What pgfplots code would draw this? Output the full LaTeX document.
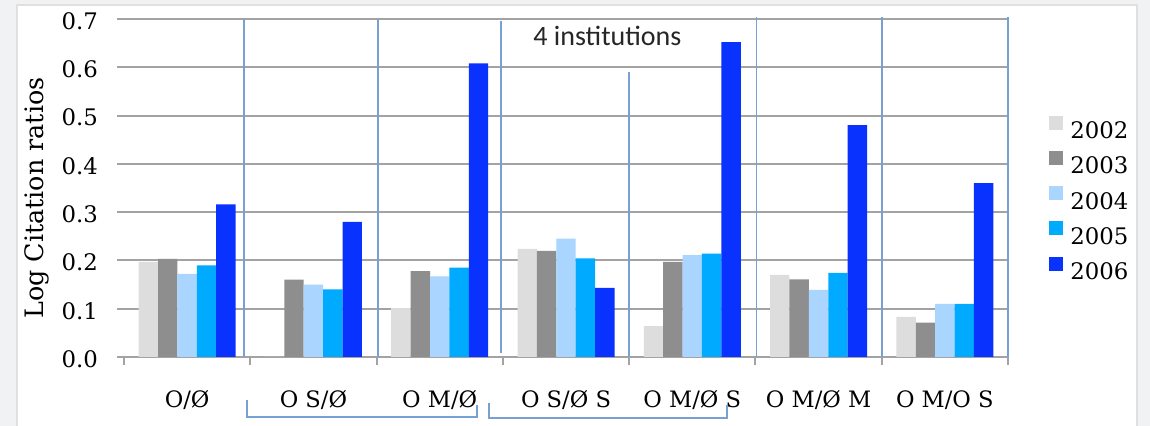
\documentclass[border=0pt]{standalone}
\usepackage{fontspec}
\setmainfont{DejaVu Serif}
\newfontfamily\calibri{Carlito}
\usepackage{pgfplots}
\pgfplotsset{compat=1.18}

\definecolor{cA}{HTML}{DDDDDD}
\definecolor{cB}{HTML}{8E8E8E}
\definecolor{cC}{HTML}{A9D5FF}
\definecolor{cD}{HTML}{00AAFF}
\definecolor{cE}{HTML}{0A32FF}
\definecolor{gridgray}{HTML}{A3A3A3}
\definecolor{annot}{HTML}{77A0D4}
\definecolor{bg}{HTML}{F1F2F4}

\begin{document}
\begin{tikzpicture}
% page background and white chart area (1px = 0.5pt)
\fill[bg] (0,0) rectangle (575pt,213pt);
\fill[white] (8.5pt,0) rectangle (568.5pt,210.5pt);
\draw[black!12, line width=0.6pt] (8.5pt,0) -- (8.5pt,210.5pt) -- (568.5pt,210.5pt) -- (568.5pt,0);

\begin{axis}[
  at={(62pt,34.5pt)}, anchor=south west,
  scale only axis, width=442pt, height=169pt,
  xmin=-0.5, xmax=6.5, ymin=0, ymax=0.7,
  ybar=0pt, bar width=9.7pt,
  axis lines*=left, axis line style={draw=none},
  tick align=outside,
  xtick={0,1,2,3,4,5,6},
  xticklabels={O/Ø, O S/Ø, O M/Ø, O S/Ø S, O M/Ø S, O M/Ø M, O M/O S},
  major x tick style={draw=none},
  minor xtick={-0.5,0.5,1.5,2.5,3.5,4.5,5.5,6.5},
  minor x tick style={gridgray, line width=1pt},
  minor tick length=4pt,
  xticklabel style={anchor=base, yshift=-22pt, font=\fontsize{11.3}{13}\selectfont},
  ytick={0,0.1,0.2,0.3,0.4,0.5,0.6,0.7},
  y tick style={gridgray, line width=1pt},
  major tick length=3.5pt,
  yticklabel style={font=\fontsize{11.4}{13}\selectfont, yshift=-1pt, xshift=-6pt},
  /pgf/number format/assume math mode=true,
  yticklabel={\pgfmathprintnumber[fixed, fixed zerofill, precision=1]{\tick}},
  ymajorgrids, grid style={gridgray, line width=1pt},
  ylabel={Log Citation ratios},
  ylabel style={at={(axis description cs:-0.098,0.47)}, anchor=center, font=\fontsize{12.7}{14}\selectfont},
  legend image code/.code={\fill[#1] (0pt,0.5pt) rectangle (7pt,7.5pt);},
  legend style={at={(1.0464,0.715)}, anchor=north west, draw=none, fill=none,
    inner sep=0pt, row sep=6.1pt, font=\fontsize{11.4}{13}\selectfont,
    nodes={inner sep=0pt, text height=8pt, text depth=0pt},
    /tikz/every odd column/.append style={column sep=3.5pt}},
  legend cell align=left,
  clip=false,
]
\addplot[draw=none, fill=cA] coordinates {(0,0.197) (1,0) (2,0.101) (3,0.224) (4,0.064) (5,0.170) (6,0.083)};
\addplot[draw=none, fill=cB] coordinates {(0,0.203) (1,0.160) (2,0.178) (3,0.220) (4,0.197) (5,0.161) (6,0.071)};
\addplot[draw=none, fill=cC] coordinates {(0,0.172) (1,0.150) (2,0.167) (3,0.245) (4,0.211) (5,0.139) (6,0.110)};
\addplot[draw=none, fill=cD] coordinates {(0,0.190) (1,0.140) (2,0.185) (3,0.204) (4,0.214) (5,0.174) (6,0.110)};
\addplot[draw=none, fill=cE] coordinates {(0,0.316) (1,0.280) (2,0.608) (3,0.143) (4,0.652) (5,0.480) (6,0.360)};
\legend{2002,2003,2004,2005,2006}

% hand-drawn separators and brackets
\begin{scope}[annot, line width=0.8pt]
\draw (axis cs:0.45,0) -- (axis cs:0.45,0.7);
\draw (axis cs:1.51,0) -- (axis cs:1.51,0.7);
\draw (axis cs:2.486,0.008) -- (axis cs:2.486,0.696);
\draw (axis cs:3.50,0) -- (axis cs:3.50,0.59);
\draw (axis cs:4.51,0) -- (axis cs:4.51,0.705);
\draw (axis cs:5.50,0) -- (axis cs:5.50,0.705);
\draw (axis cs:6.50,0) -- (axis cs:6.50,0.705);
\draw (axis cs:0.474,-0.089) -- (axis cs:0.474,-0.124) -- (axis cs:2.295,-0.124) -- (axis cs:2.295,-0.099);
\draw (axis cs:2.390,-0.095) -- (axis cs:2.390,-0.126) -- (axis cs:4.275,-0.126) -- (axis cs:4.275,-0.099);
\end{scope}
\node[anchor=base, font=\calibri\fontsize{14}{16}\selectfont, text=black!85] at (axis cs:3.328,0.646) {4 institutions};
\end{axis}
\pgfresetboundingbox
\useasboundingbox (0,0) rectangle (575pt,213pt);
\end{tikzpicture}
\end{document}
